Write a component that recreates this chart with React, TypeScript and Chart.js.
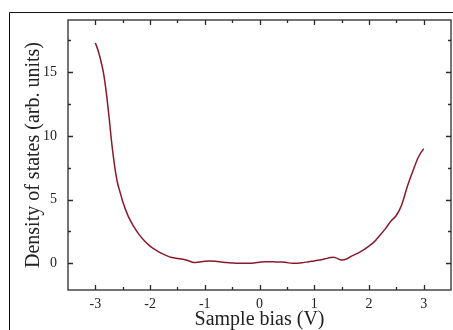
import React, { useEffect, useRef } from "react";
import { Chart, registerables } from "chart.js";

Chart.register(...registerables);

// Sample bias (V)
const biasV = [
  -3.0, -2.95, -2.9, -2.85, -2.8, -2.75, -2.7, -2.65, -2.6, -2.55, -2.5, -2.4, -2.3, -2.2, -2.1,
  -2.0, -1.9, -1.8, -1.7, -1.6, -1.5, -1.4, -1.3, -1.2, -1.1, -1.0, -0.9, -0.8, -0.7, -0.6,
  -0.5, -0.4, -0.3, -0.2, -0.1, 0.0, 0.1, 0.2, 0.3, 0.4, 0.5, 0.6, 0.7, 0.8, 0.9,
  1.0, 1.1, 1.2, 1.3, 1.35, 1.4, 1.5, 1.6, 1.7, 1.8, 1.9, 2.0, 2.1, 2.2, 2.3,
  2.4, 2.5, 2.6, 2.7, 2.8, 2.9, 3.0,
];
// Density of states (arb. units)
const dos = [
  17.3, 16.7, 15.9, 14.9, 13.4, 11.5, 9.4, 7.7, 6.4, 5.6, 4.85, 3.7, 2.9, 2.25, 1.75,
  1.35, 1.05, 0.8, 0.6, 0.45, 0.38, 0.32, 0.2, 0.05, 0.1, 0.15, 0.18, 0.15, 0.1, 0.05,
  0.02, 0.0, 0.0, 0.0, 0.02, 0.08, 0.12, 0.12, 0.1, 0.1, 0.05, 0.0, 0.0, 0.05, 0.12,
  0.18, 0.25, 0.35, 0.45, 0.48, 0.42, 0.25, 0.35, 0.6, 0.8, 1.05, 1.35, 1.7, 2.2, 2.7,
  3.3, 3.75, 4.6, 6.0, 7.2, 8.3, 9.0,
];

const xTickValues = [-3, -2, -1, 0, 1, 2, 3];
const xMinorTicks = [-2.5, -1.5, -0.5, 0.5, 1.5, 2.5];
const yTickValues = [0, 5, 10, 15];
const yMinorTicks = [2.5, 7.5, 12.5, 17.5];
const xAxisTitle = "Sample bias (V)";
const yAxisTitle = "Density of states (arb. units)";

const framePlugin = {
  id: "framePlugin",
  afterDraw(chart: any) {
    const ctx = chart.ctx;
    const { left, right, top, bottom } = chart.chartArea;
    const xs = chart.scales.x;
    const ys = chart.scales.y;
    ctx.save();
    ctx.strokeStyle = "#2a2a2a";
    ctx.lineWidth = 1.3;
    ctx.strokeRect(left, top, right - left, bottom - top);
    ctx.beginPath();
    const major = 5;
    const minor = 3;
    xTickValues.forEach((v) => {
      const p = Math.round(xs.getPixelForValue(v)) + 0.5;
      ctx.moveTo(p, bottom);
      ctx.lineTo(p, bottom - major);
      ctx.moveTo(p, top);
      ctx.lineTo(p, top + major);
    });
    xMinorTicks.forEach((v) => {
      const p = Math.round(xs.getPixelForValue(v)) + 0.5;
      ctx.moveTo(p, bottom);
      ctx.lineTo(p, bottom - minor);
      ctx.moveTo(p, top);
      ctx.lineTo(p, top + minor);
    });
    yTickValues.forEach((v) => {
      const p = Math.round(ys.getPixelForValue(v)) + 0.5;
      ctx.moveTo(left, p);
      ctx.lineTo(left + major, p);
      ctx.moveTo(right, p);
      ctx.lineTo(right - major, p);
    });
    yMinorTicks.forEach((v) => {
      const p = Math.round(ys.getPixelForValue(v)) + 0.5;
      ctx.moveTo(left, p);
      ctx.lineTo(left + minor, p);
      ctx.moveTo(right, p);
      ctx.lineTo(right - minor, p);
    });
    ctx.stroke();
    // outer figure frame (top and left edges)
    ctx.beginPath();
    ctx.strokeStyle = "#111";
    ctx.lineWidth = 1;
    ctx.moveTo(9.5, chart.height);
    ctx.lineTo(9.5, 12.5);
    ctx.lineTo(chart.width, 12.5);
    ctx.stroke();
    ctx.restore();
  },
};

export default function App() {
  const ref = useRef<HTMLCanvasElement | null>(null);
  useEffect(() => {
    if (!ref.current) return;
    const points = biasV.map((x, i) => ({ x, y: dos[i] }));
    const tickFont = { family: "'Liberation Serif', 'Times New Roman', serif", size: 14 };
    const titleFont = { family: "'Liberation Serif', 'Times New Roman', serif", size: 20, lineHeight: 1 };
    const chart = new Chart(ref.current, {
      type: "line",
      data: {
        datasets: [
          {
            data: points,
            borderColor: "#8a1a2a",
            borderWidth: 1.5,
            pointRadius: 0,
            fill: false,
            cubicInterpolationMode: "monotone",
          },
        ],
      },
      options: {
        animation: false,
        responsive: false,
        devicePixelRatio: 1,
        layout: { padding: { left: 0, right: 2, top: 20, bottom: 0 } },
        plugins: { legend: { display: false }, tooltip: { enabled: false } },
        scales: {
          x: {
            type: "linear",
            min: -3.5,
            max: 3.5,
            afterBuildTicks: (s: any) => {
              s.ticks = xTickValues.map((value) => ({ value }));
            },
            afterFit: (s: any) => {
              s.height = 40;
            },
            grid: { display: false, drawTicks: false },
            border: { display: false },
            ticks: {
              font: tickFont,
              color: "#222",
              padding: 6,
              maxRotation: 0,
              callback: (v: any) => String(v),
            },
            title: {
              display: true,
              text: xAxisTitle,
              font: titleFont,
              color: "#222",
              padding: { top: 0, bottom: 0 },
            },
          },
          y: {
            type: "linear",
            min: -2.1,
            max: 19.1,
            afterBuildTicks: (s: any) => {
              s.ticks = yTickValues.map((value) => ({ value }));
            },
            afterFit: (s: any) => {
              s.width = 68;
            },
            grid: { display: false, drawTicks: false },
            border: { display: false },
            ticks: {
              font: tickFont,
              color: "#222",
              padding: 11,
              callback: (v: any) => String(v),
            },
            title: {
              display: true,
              text: yAxisTitle,
              font: titleFont,
              color: "#222",
              padding: { top: 24, bottom: 0 },
            },
          },
        },
      },
      plugins: [framePlugin],
    } as any);
    return () => chart.destroy();
  }, []);
  return (
    <div style={{ position: "fixed", left: 0, top: 0, width: 453, height: 330, background: "#fff" }}>
      <canvas ref={ref} width={453} height={330} style={{ display: "block", width: 453, height: 330 }} />
    </div>
  );
}
